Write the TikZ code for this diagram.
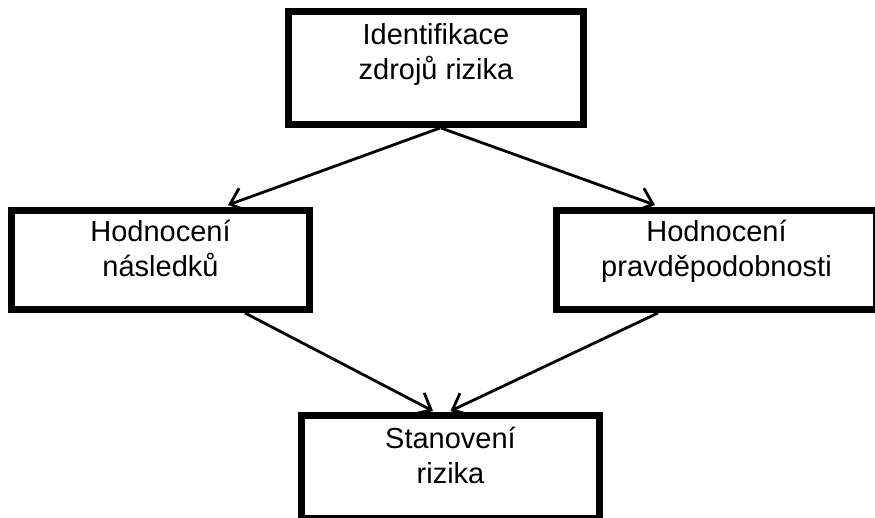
\documentclass[tikz,border=0pt]{standalone}
\usepackage{fontspec}
\setmainfont{Liberation Sans}
\usetikzlibrary{arrows.meta}
\begin{document}
\begin{tikzpicture}[x=1pt,y=-1pt,
  stagebox/.style={draw=black, line width=7pt, fill=white, rectangle, inner sep=0pt},
  caption/.style={font=\fontsize{29pt}{35pt}\selectfont, align=center, anchor=base, inner sep=0pt},
  flow/.style={draw=black, line width=2.8pt, -{Straight Barb[length=14pt,width=24pt,line width=2.8pt]}}
]
\useasboundingbox (0,0) rectangle (875,518);

% process stages
\node[stagebox, minimum width=295pt, minimum height=113pt] (ident) at (436,68) {};
\node[stagebox, minimum width=298pt, minimum height=99pt] (dopad) at (160.5,260) {};
\node[stagebox, minimum width=320pt, minimum height=99pt] (pravd) at (716.5,260) {};
\node[stagebox, minimum width=298pt, minimum height=103pt] (stanov) at (450.5,467) {};

% stage captions; the base anchor sits on the second line
\node[caption] (identtext) at ([yshift=-72pt]ident.north) {Identifikace\\zdrojů rizika};
\node[caption] (dopadtext) at ([yshift=-70pt]dopad.north) {Hodnocení\\následků};
\node[caption] (pravdtext) at ([yshift=-70pt]pravd.north) {Hodnocení\\pravděpodobnosti};
\node[caption] (stanovtext) at ([yshift=-71pt]stanov.north) {Stanovení\\rizika};

% flow between stages
\draw[flow] ([xshift=4pt]ident.south) -- ([xshift=67.5pt,yshift=2pt]dopad.north);
\draw[flow] ([xshift=5pt]ident.south) -- ([xshift=-61.5pt,yshift=2pt]pravd.north);
\draw[flow] ([xshift=84.5pt]dopad.south) -- ([xshift=-17.5pt,yshift=1pt]stanov.north);
\draw[flow] ([xshift=-58.5pt]pravd.south) -- ([xshift=0pt,yshift=1pt]stanov.north);
\end{tikzpicture}
\end{document}
